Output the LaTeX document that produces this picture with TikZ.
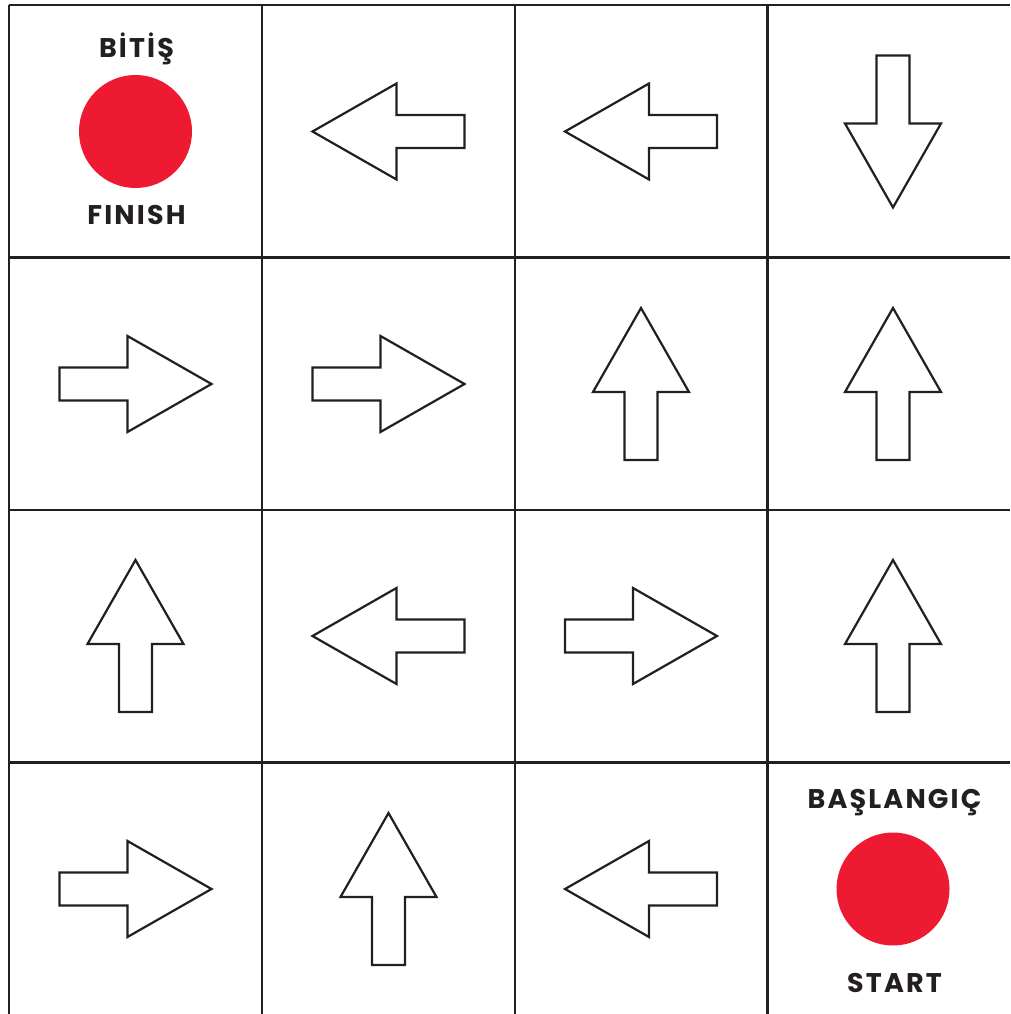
\documentclass[tikz,border=0pt]{standalone}
\usepackage{fontspec}
\setmainfont{Poppins}
\newfontfamily\lblfont[LetterSpace=8]{Poppins}
\definecolor{gridc}{HTML}{231F20}
\definecolor{dotred}{HTML}{EE1A31}
\tikzset{
  gridline/.style={draw=gridc, line width=2.6pt},
  arrowline/.style={draw=gridc, line width=2.2pt, line join=miter, fill=white},
  dot/.style={circle, fill=dotred, minimum size=113pt, inner sep=0pt},
  lbl/.style={font=\lblfont\fontsize{27}{27}\selectfont\bfseries, text=gridc, anchor=base, inner sep=0pt},
  arr/.pic={\path[arrowline] (-76,-16.5) -- (-8,-16.5) -- (-8,-48) -- (76,0) -- (-8,48) -- (-8,16.5) -- (-76,16.5) -- cycle;}
}
\begin{document}
\begin{tikzpicture}[x=1pt,y=-1pt]
\useasboundingbox (0,0) rectangle (1010,1014);
% grid
\draw[gridline] (9,5) -- (1010,5);
\foreach \y in {257.5,510,762.5} \draw[gridline] (9,\y) -- (1010,\y);
\foreach \x in {9,262,515,767.5} \draw[gridline] (\x,5) -- (\x,1014);
% finish
\node[dot] (finish) at (135.5,131.5) {};
\node[lbl] (bitis) at (136.5,58) {BİTİŞ};
\node[lbl] (finishtxt) at (136.5,224) {FINISH};
% start
\node[dot] (start) at (893,889) {};
\node[lbl] (baslangic) at (894.5,808) {BAŞLANGIÇ};
\node[lbl] (starttxt) at (894.5,992) {START};
% arrows: row 0
\pic[rotate=180] at (388.5,131.5) {arr};
\pic[rotate=180] at (641,131.5) {arr};
\pic[rotate=-90] at (893,131.5) {arr};
% row 1
\pic at (135.5,384) {arr};
\pic at (388.5,384) {arr};
\pic[rotate=90] at (641,384) {arr};
\pic[rotate=90] at (893,384) {arr};
% row 2
\pic[rotate=90] at (135.5,636) {arr};
\pic[rotate=180] at (388.5,636) {arr};
\pic at (641,636) {arr};
\pic[rotate=90] at (893,636) {arr};
% row 3
\pic at (135.5,889) {arr};
\pic[rotate=90] at (388.5,889) {arr};
\pic[rotate=180] at (641,889) {arr};
\end{tikzpicture}
\end{document}
